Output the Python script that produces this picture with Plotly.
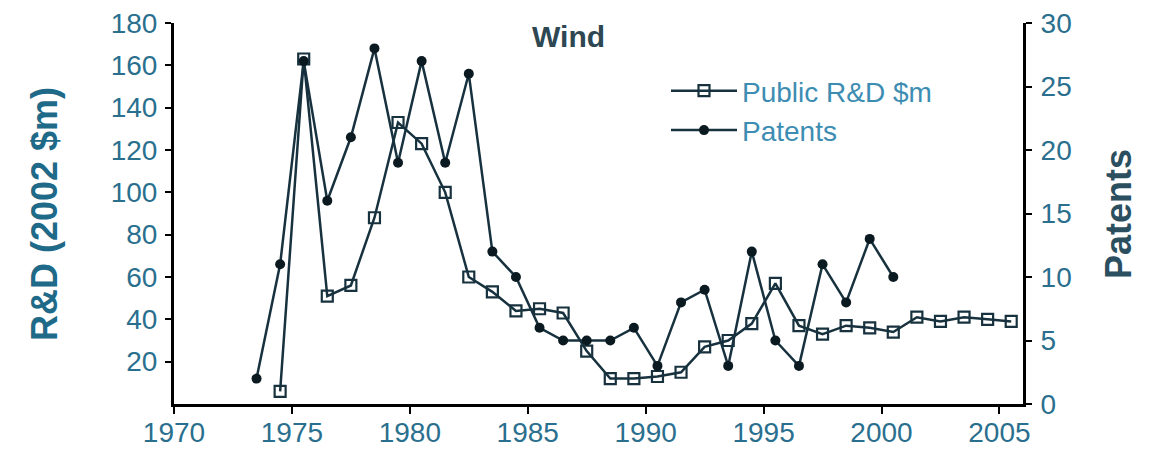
import plotly.graph_objects as go

# ---- data ----
years_rd = list(range(1974, 2006))
rd_values = [6, 163, 51, 56, 88, 133, 123, 100, 60, 53, 44, 45, 43, 25, 12, 12, 13, 15,
             27, 30, 38, 57, 37, 33, 37, 36, 34, 41, 39, 41, 40, 39]

years_pat = list(range(1973, 2001))
patent_values = [2, 11, 27, 16, 21, 28, 19, 27, 19, 26, 12, 10, 6, 5, 5, 5, 6, 3, 8, 9,
                 3, 12, 5, 3, 11, 8, 13, 10]

x_ticks = [1970, 1975, 1980, 1985, 1990, 1995, 2000, 2005]
left_ticks = [20, 40, 60, 80, 100, 120, 140, 160, 180]
right_ticks = [0, 5, 10, 15, 20, 25, 30]

MID = 0.5  # values plotted at mid-year
line_col = "#17323e"
tick_col = "#2a6f8e"
font_family = "Liberation Sans, Arial, sans-serif"

# page has an 8px body margin; figure sized to fit the 1152x458 window
OFF = 8
W, H = 1152 - OFF, 458 - OFF
PLOT_L, PLOT_R, PLOT_T, PLOT_B = 174, 1023, 23, 404  # plot area in page pixels
L, T = PLOT_L - OFF, PLOT_T - OFF
R, B = W - (PLOT_R - OFF), H - (PLOT_B - OFF)
PW, PH = PLOT_R - PLOT_L, PLOT_B - PLOT_T


def px(x):
    return (x - PLOT_L) / PW


def py(y):
    return (PLOT_B - y) / PH


fig = go.Figure()
fig.add_trace(go.Scatter(
    x=[y + MID for y in years_rd], y=rd_values, name="Public R&D $m",
    mode="lines+markers", legendgroup="a",
    line=dict(color=line_col, width=2.5),
    marker=dict(symbol="square-open", size=11, color=line_col, line=dict(width=2.2)),
    yaxis="y",
))
fig.add_trace(go.Scatter(
    x=[y + MID for y in years_pat], y=patent_values, name="Patents",
    mode="lines+markers", legendgroup="b",
    line=dict(color=line_col, width=2.5),
    marker=dict(symbol="circle", size=10, color="#0b1a20"),
    yaxis="y2",
))

axis_common = dict(ticks="outside", tickwidth=2, tickcolor="black",
                   showline=True, linecolor="black", linewidth=3, showgrid=False,
                   zeroline=False, automargin=False, ticklabeloverflow="allow")

fig.update_layout(
    template="none",
    width=W, height=H,
    margin=dict(l=L, r=R, t=T, b=B, pad=0),
    paper_bgcolor="white", plot_bgcolor="white",
    font=dict(family=font_family, color=tick_col, size=22),
    showlegend=True,
    legend=dict(x=px(666), y=py(66), xanchor="left", yanchor="top",
                bgcolor="rgba(0,0,0,0)", font=dict(size=28, color="#3d8db3"),
                traceorder="grouped", tracegroupgap=0, itemwidth=66),
    xaxis=dict(range=[1970, 2006], tickvals=x_ticks, ticklen=7, ticklabelstandoff=-6,
               tickfont=dict(size=28, color=tick_col), **axis_common),
    yaxis=dict(range=[0, 180], tickvals=left_ticks, ticklen=6, ticklabelstandoff=2,
               tickfont=dict(size=28, color=tick_col), **axis_common),
    yaxis2=dict(range=[0, 30], tickvals=right_ticks, overlaying="y", side="right",
                ticklen=6, ticklabelstandoff=3, tickfont=dict(size=28, color=tick_col),
                **axis_common),
    annotations=[
        dict(text="<b>Wind</b>", x=px(568), y=py(37),
             xref="paper", yref="paper", xanchor="center", yanchor="middle",
             showarrow=False, font=dict(size=30, color="#2d4753")),
        dict(text="<b>R&D (2002 $m)</b>", textangle=-90, x=px(45), y=py(214),
             xref="paper", yref="paper", xanchor="center", yanchor="middle",
             showarrow=False, font=dict(size=36, color="#1f6a88")),
        dict(text="<b>Patents</b>", textangle=-90, x=px(1119), y=py(214),
             xref="paper", yref="paper", xanchor="center", yanchor="middle",
             showarrow=False, font=dict(size=36, color="#2b4f5f")),
    ],
)

fig.write_html("out.html")
